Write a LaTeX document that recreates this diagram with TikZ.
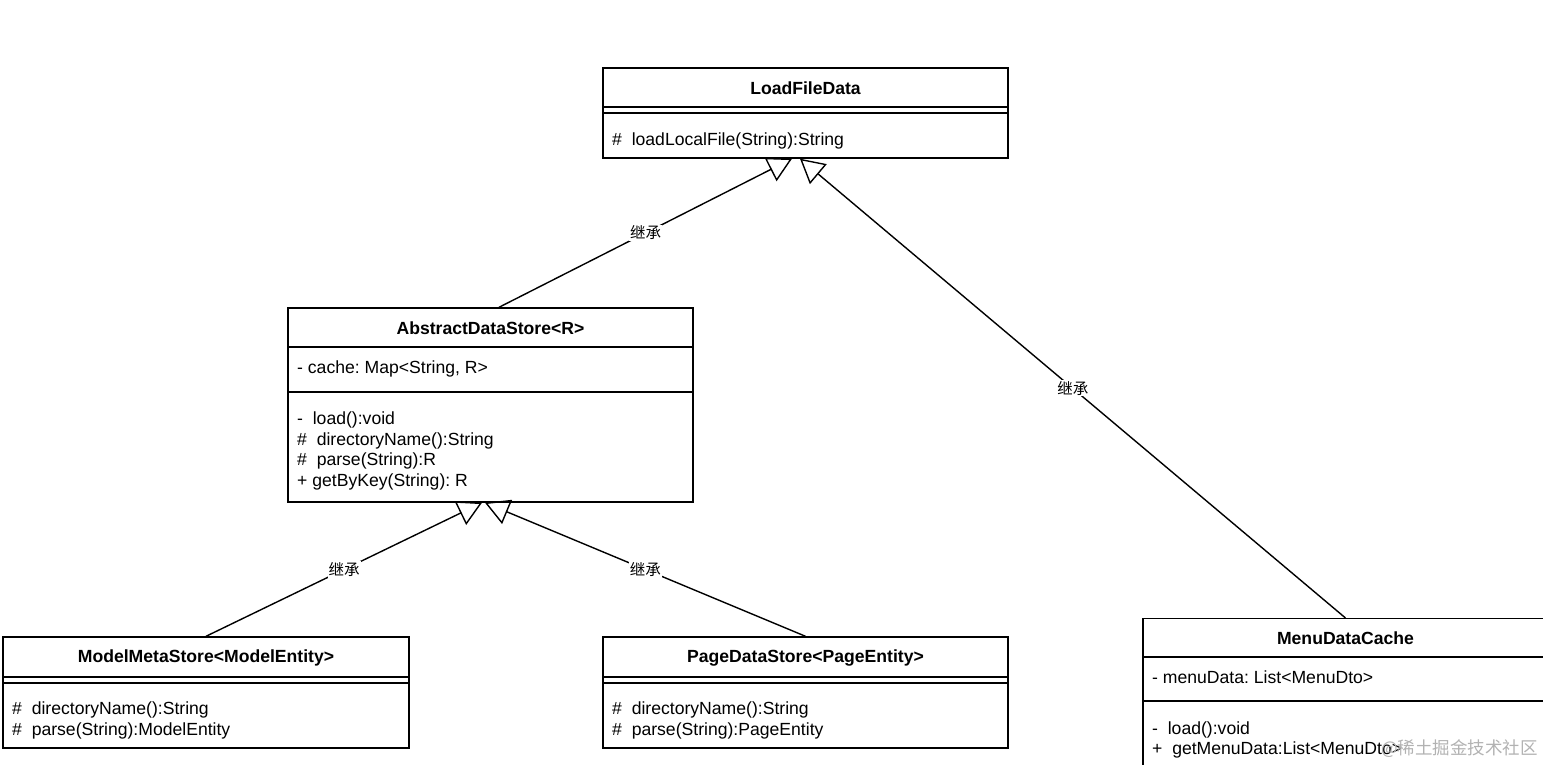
\documentclass[tikz,border=0pt]{standalone}
\usepackage{fontspec}
\setmainfont{Liberation Sans}
\newfontfamily\cjk{Noto Sans CJK SC}
\usetikzlibrary{arrows.meta}
\frenchspacing
\begin{document}
\begin{tikzpicture}[x=1pt,y=-1pt,
  umlbox/.style={draw, line width=1.4pt, rectangle, inner sep=0pt, fill=white},
  sep/.style={line width=1.4pt},
  title/.style={font=\fontsize{17.6}{20}\selectfont\bfseries, inner sep=0pt},
  member/.style={font=\fontsize{17.6}{20}\selectfont, anchor=base west, inner sep=0pt},
  inh/.style={line width=1.4pt, -{Triangle[open, length=24pt, width=26pt, line width=1.4pt]}},
  lbl/.style={font=\cjk\fontsize{15.5}{18}\selectfont, fill=white, inner sep=1pt},
  wm/.style={font=\cjk\fontsize{17.5}{20}\selectfont, text=black!30, anchor=base west, inner sep=0pt}
]
\useasboundingbox (0,0) rectangle (1543,765);
\fill[white] (0,0) rectangle (1543,765);
\clip (0,0) rectangle (1543,765);

% LoadFileData
\node[umlbox, minimum width=405pt, minimum height=90pt] (lfd) at (805.5,113) {};
\draw[sep] (603,107) -- (1008,107);
\draw[sep] (603,113) -- (1008,113);
\node[title] (lfdt) at (805.5,88) {LoadFileData};
\node[member] (lfdm1) at (612,145.5) {\#\ \ loadLocalFile(String):String};

% AbstractDataStore
\node[umlbox, minimum width=405pt, minimum height=194pt] (ads) at (490.5,405) {};
\draw[sep] (288,347) -- (693,347);
\draw[sep] (288,392) -- (693,392);
\node[title] (adst) at (490.5,328) {AbstractDataStore<R>};
\node[member] (adsa1) at (297,373.5) {- cache: Map<String, R>};
\node[member] (adsm1) at (297,424.5) {-\ \ load():void};
\node[member] (adsm2) at (297,445) {\#\ \ directoryName():String};
\node[member] (adsm3) at (297,465.5) {\#\ \ parse(String):R};
\node[member] (adsm4) at (297,486.5) {+ getByKey(String): R};

% ModelMetaStore
\node[umlbox, minimum width=406pt, minimum height=111pt] (mms) at (206,692.5) {};
\draw[sep] (3,677) -- (409,677);
\draw[sep] (3,683) -- (409,683);
\node[title] (mmst) at (206,658) {ModelMetaStore<ModelEntity>};
\node[member] (mmsm1) at (12,714.5) {\#\ \ directoryName():String};
\node[member] (mmsm2) at (12,735.5) {\#\ \ parse(String):ModelEntity};

% PageDataStore
\node[umlbox, minimum width=405pt, minimum height=111pt] (pds) at (805.5,692.5) {};
\draw[sep] (603,677) -- (1008,677);
\draw[sep] (603,683) -- (1008,683);
\node[title] (pdst) at (805.5,658) {PageDataStore<PageEntity>};
\node[member] (pdsm1) at (612,714.5) {\#\ \ directoryName():String};
\node[member] (pdsm2) at (612,735.5) {\#\ \ parse(String):PageEntity};

% MenuDataCache
\node[umlbox, minimum width=405pt, minimum height=170pt, anchor=north] (mdc) at (1345.5,618) {};
\draw[sep] (1143,657) -- (1548,657);
\draw[sep] (1143,701) -- (1548,701);
\node[title] (mdct) at (1345.5,638) {MenuDataCache};
\node[member] (mdca1) at (1152,683.5) {- menuData: List<MenuDto>};
\node[member] (mdcm1) at (1152,734.5) {-\ \ load():void};
\node[member] (mdcm2) at (1152,754.5) {+\ \ getMenuData:List<MenuDto>};

% inheritance connectors
\draw[inh] ([xshift=8.5pt]ads.north) -- node[lbl] (l1) {继承} ([xshift=-13.5pt]lfd.south);
\draw[inh] (mdc.north) -- node[lbl] (l2) {继承} ([xshift=-5.5pt]lfd.south);
\draw[inh] (mms.north) -- node[lbl] (l3) {继承} ([xshift=-8.5pt]ads.south);
\draw[inh] (pds.north) -- node[lbl] (l4) {继承} ([xshift=-5.5pt]ads.south);

% watermark
\node[wm] (wmk) at (1381,754) {@稀土掘金技术社区};
\end{tikzpicture}
\end{document}
